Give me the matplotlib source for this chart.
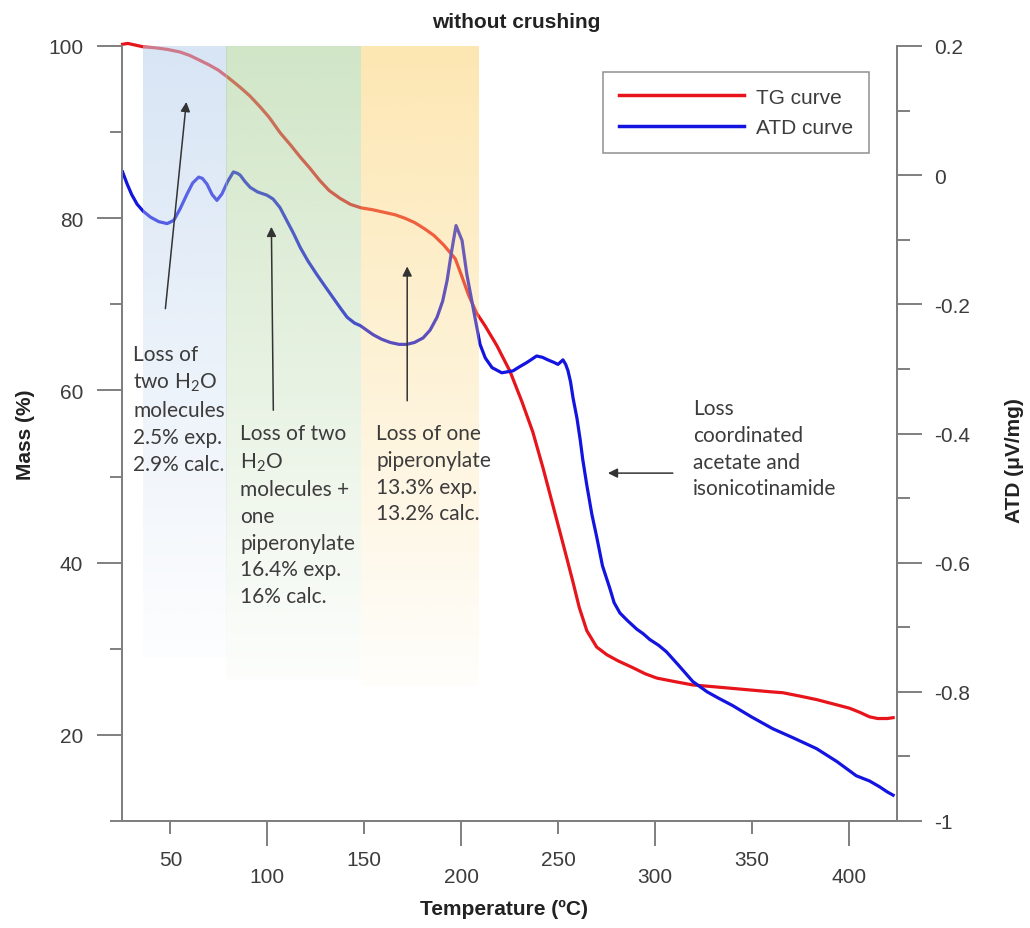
import numpy as np
import matplotlib
matplotlib.use('Agg')
import matplotlib.pyplot as plt
from matplotlib.lines import Line2D
from matplotlib.ticker import MultipleLocator, FuncFormatter, NullFormatter

# DATA ################################################################################################################

tg_temp = [25.3, 28, 32, 36, 42, 48.5, 55, 60, 65.5, 70, 74.7, 80, 86, 91, 96.4, 101, 106.7, 112, 117, 122,
           127, 132, 137.6, 143, 148.5, 154, 160, 166, 171, 176, 181, 186, 191, 197, 200, 204, 208, 212.4,
           218.5, 225.3, 231.4, 237, 242.3, 247, 251, 254.6, 257.7, 261, 264.9, 270, 275.3, 281, 288.7, 295,
           301, 310, 319.6, 330, 340, 350, 360, 366, 375, 383.5, 392, 400.5, 406, 410.8, 415, 420, 423]
tg_mass = [100.2, 100.3, 100.1, 99.9, 99.8, 99.6, 99.3, 98.9, 98.3, 97.8, 97.2, 96.3, 95.2, 94.2, 92.9, 91.7,
           89.9, 88.5, 87.1, 85.8, 84.4, 83.2, 82.3, 81.6, 81.2, 81.0, 80.7, 80.4, 80.0, 79.5, 78.8, 78.0, 76.9,
           75.3, 73.5, 71.0, 69.0, 67.5, 65.2, 62.2, 58.7, 55.2, 51.0, 47.0, 43.6, 40.5, 37.8, 34.8, 32.1, 30.2,
           29.3, 28.6, 27.8, 27.1, 26.6, 26.2, 25.8, 25.6, 25.4, 25.2, 25.0, 24.9, 24.5, 24.1, 23.6, 23.1, 22.6,
           22.1, 21.9, 21.9, 22.0]

atd_temp = [25.3, 27.7, 30, 32.8, 36, 39.7, 44, 48.3, 51.7, 55, 58.6, 61.5, 64.6, 66.5, 68.9, 71.5, 74, 76.6,
            79.5, 82.5, 84.5, 86, 88.5, 91.2, 95, 99.8, 103, 106.5, 110, 113.5, 117, 121, 125.6, 130, 134, 138,
            141.2, 145, 148, 154.6, 159, 163.4, 168, 172, 176, 180.4, 184, 187.6, 190.5, 192.8, 195, 197.4, 199,
            200.5, 203, 206.2, 209.8, 212.5, 216, 221, 226.8, 230, 234, 237, 239, 242, 244.8, 248, 250, 251.5,
            252.6, 254, 255.2, 256.5, 257.8, 259.8, 261.5, 262.8, 264.9, 267.5, 270, 273, 276.8, 279, 282, 286,
            290.7, 294, 297.4, 302, 306, 312, 319.6, 327, 333, 340, 350, 360.8, 372, 383.5, 394, 404, 410.8,
            416, 420, 423]
atd_val = [0.005, -0.014, -0.030, -0.045, -0.056, -0.065, -0.072, -0.075, -0.070, -0.052, -0.029, -0.012,
           -0.003, -0.005, -0.014, -0.030, -0.039, -0.029, -0.010, 0.005, 0.003, 0.000, -0.010, -0.019, -0.026,
           -0.031, -0.037, -0.050, -0.070, -0.090, -0.112, -0.133, -0.154, -0.173, -0.190, -0.207, -0.220,
           -0.229, -0.233, -0.247, -0.254, -0.259, -0.262, -0.262, -0.259, -0.252, -0.240, -0.220, -0.195,
           -0.163, -0.120, -0.078, -0.090, -0.101, -0.154, -0.205, -0.262, -0.283, -0.298, -0.306, -0.303,
           -0.297, -0.290, -0.284, -0.280, -0.282, -0.286, -0.290, -0.293, -0.289, -0.286, -0.293, -0.303,
           -0.320, -0.345, -0.376, -0.410, -0.440, -0.480, -0.525, -0.560, -0.605, -0.640, -0.662, -0.678,
           -0.690, -0.703, -0.710, -0.719, -0.728, -0.738, -0.758, -0.784, -0.800, -0.810, -0.821, -0.839,
           -0.857, -0.872, -0.888, -0.908, -0.930, -0.938, -0.947, -0.955, -0.960]

band_start = [35.6, 78.9, 148.5]
band_end = [78.9, 148.5, 209.0]
band_bottom = [29.0, 26.4, 25.7]  # mass %, where the shading fades out
band_color = ['#b8d0ec', '#abd199', '#fbd373']

########################################################################################################################

plt.rcParams['font.family'] = ['Liberation Sans', 'DejaVu Sans']
plt.rcParams['axes.unicode_minus'] = False
plt.rcParams['mathtext.fontset'] = 'custom'
plt.rcParams['mathtext.rm'] = 'Lato'
plt.rcParams['mathtext.it'] = 'Lato'

GREY = '#7f7f7f'
TXT = '#3c3c3c'
RED = '#e8141b'
BLUE = '#1414e0'

fig = plt.figure(figsize=(10.30, 9.29), dpi=100)
ax = fig.add_axes([122 / 1030, 1 - 822 / 929, 775 / 1030, 775 / 929])
ax2 = ax.twinx()

ax.set_xlim(25, 425)
ax.set_ylim(10, 100)
ax2.set_ylim(-1, 0.2)


def mass_to_atd(m):
    return -1 + (m - 10) * 1.2 / 90


ax.plot(tg_temp, tg_mass, color=RED, lw=2.3, zorder=2, clip_on=False)
ax2.plot(atd_temp, atd_val, color=BLUE, lw=2.3, zorder=2)

# gradient shading, drawn over the curves like in the original figure
for x0, x1, bot, col in zip(band_start, band_end, band_bottom, band_color):
    rgb = matplotlib.colors.to_rgb(col)
    n = 200
    grad = np.zeros((n, 1, 4))
    grad[:, 0, :3] = rgb
    grad[:, 0, 3] = np.linspace(0.55, 0.03, n)
    ax2.imshow(grad, extent=[x0, x1, mass_to_atd(bot), mass_to_atd(100)], origin='upper',
               aspect='auto', zorder=3, interpolation='bilinear')
ax2.set_xlim(25, 425)
ax2.set_ylim(-1, 0.2)

# spines and ticks
for a in (ax, ax2):
    a.spines['top'].set_visible(False)
    for s in ('left', 'right', 'bottom'):
        a.spines[s].set_color(GREY)
        a.spines[s].set_linewidth(1.4)
ax.patch.set_visible(False)

ax.xaxis.set_major_locator(MultipleLocator(100))
ax.xaxis.set_minor_locator(MultipleLocator(100, offset=50))
ax.xaxis.set_minor_formatter(FuncFormatter(lambda v, p: f'{v:g}'))
ax.tick_params(axis='x', which='major', direction='out', length=18, width=1.4, color=GREY,
               labelsize=15, labelcolor=TXT, pad=15)
ax.tick_params(axis='x', which='minor', direction='out', length=9, width=1.4, color=GREY,
               labelsize=15, labelcolor=TXT, pad=12)

ax.yaxis.set_major_locator(MultipleLocator(20))
ax.yaxis.set_minor_locator(MultipleLocator(20, offset=10))
ax.tick_params(axis='y', which='major', direction='out', length=18, width=1.4, color=GREY,
               labelsize=15, labelcolor=TXT, pad=10)
ax.tick_params(axis='y', which='minor', direction='out', length=9, width=1.4, color=GREY)

ax2.yaxis.set_major_locator(MultipleLocator(0.2))
ax2.yaxis.set_minor_locator(MultipleLocator(0.2, offset=0.1))
ax2.yaxis.set_major_formatter(FuncFormatter(lambda v, p: f'{round(v, 2):g}'))
ax2.yaxis.set_minor_formatter(NullFormatter())
ax2.tick_params(axis='y', which='major', direction='out', length=18, width=1.4, color=GREY,
                labelsize=15, labelcolor=TXT, pad=9)
ax2.tick_params(axis='y', which='minor', direction='out', length=9, width=1.4, color=GREY)

ax.set_xlabel('Temperature (ºC)', fontsize=15, fontweight='bold', color='#222222')
ax.xaxis.set_label_coords(0.4935, -0.101)
ax.set_ylabel('Mass (%)', fontsize=15, fontweight='bold', color='#222222')
ax.yaxis.set_label_coords(-0.112, 0.5)
ax2.set_ylabel('ATD (μV/mg)', fontsize=15, fontweight='bold', color='#222222')
ax2.yaxis.set_label_coords(1.139, 0.466)

fig.text(516 / 1030, 1 - 22 / 929, 'without crushing', ha='center', va='center', fontsize=15,
         fontweight='bold', color='#222222')

# annotations
ann_font = dict(family=['Lato', 'DejaVu Sans'], fontsize=15, color=TXT, linespacing=1.42, va='top',
                ha='left', zorder=5)
arrow = dict(arrowstyle='-|>', color='#333333', lw=1.1, mutation_scale=14, shrinkA=0, shrinkB=0)
ax2.annotate('', xy=(58.2, 93.5), xytext=(47.4, 69.5), xycoords=ax.transData, textcoords=ax.transData,
             arrowprops=arrow, zorder=5)
ax2.annotate('', xy=(102.1, 79.0), xytext=(103.1, 57.7), xycoords=ax.transData, textcoords=ax.transData,
             arrowprops=arrow, zorder=5)
ax2.annotate('', xy=(172.2, 74.4), xytext=(172.2, 58.8), xycoords=ax.transData, textcoords=ax.transData,
             arrowprops=arrow, zorder=5)
ax2.annotate('', xy=(275.8, 50.4), xytext=(309.3, 50.4), xycoords=ax.transData, textcoords=ax.transData,
             arrowprops=arrow, zorder=5)

ax2.text(30.9, 65.4, 'Loss of\ntwo H$_2$O\nmolecules\n2.5% exp.\n2.9% calc.', transform=ax.transData,
         **ann_font)
ax2.text(86.1, 56.2, 'Loss of two\nH$_2$O\nmolecules +\none\npiperonylate\n16.4% exp.\n16% calc.',
         transform=ax.transData, **ann_font)
ax2.text(156.2, 56.2, 'Loss of one\npiperonylate\n13.3% exp.\n13.2% calc.', transform=ax.transData,
         **ann_font)
ax2.text(319.6, 59.1, 'Loss\ncoordinated\nacetate and\nisonicotinamide', transform=ax.transData,
         **ann_font)

handles = [Line2D([], [], color=RED, lw=2.5), Line2D([], [], color=BLUE, lw=2.5)]
leg = ax2.legend(handles, ['TG curve', 'ATD curve'], loc='upper right', bbox_to_anchor=(869 / 1030, 1 - 73 / 929),
                 bbox_transform=fig.transFigure, fontsize=15, handlelength=6, frameon=True, fancybox=False,
                 edgecolor=GREY, borderpad=0.75, labelspacing=0.55, handletextpad=0.6, borderaxespad=0)
leg.get_frame().set_linewidth(1.2)
for t in leg.get_texts():
    t.set_color(TXT)

fig.savefig('out.png', dpi=100)
